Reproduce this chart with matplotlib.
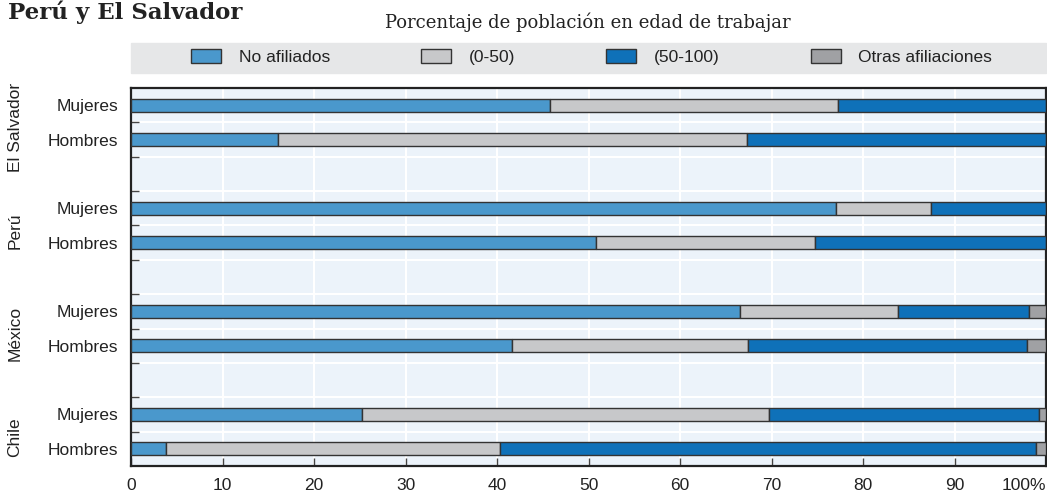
import numpy as np
import matplotlib.pyplot as plt
from matplotlib.patches import Rectangle
from matplotlib.transforms import blended_transform_factory

# rows from bottom to top
paises = ['Chile', 'México', 'Perú', 'El Salvador']
sexos = ['Hombres', 'Mujeres']
series = ['No afiliados', '(0-50)', '(50-100)', 'Otras afiliaciones']
colores = ['#4a98cc', '#c7c8ca', '#0f71b9', '#a0a1a4']

# Chile H, Chile M, México H, México M, Perú H, Perú M, El Salvador H, El Salvador M
no_afiliados = [3.8, 25.2, 41.6, 66.6, 50.8, 77.1, 16.1, 45.8]
de_0_50 = [36.5, 44.5, 25.8, 17.2, 24.0, 10.3, 51.2, 31.5]
de_50_100 = [58.6, 29.5, 30.5, 14.3, 25.2, 12.6, 32.7, 22.7]
otras = [1.1, 0.8, 2.1, 1.9, 0.0, 0.0, 0.0, 0.0]

xticks = [0, 10, 20, 30, 40, 50, 60, 70, 80, 90, 100]
xlabels = ['0', '10', '20', '30', '40', '50', '60', '70', '80', '90', '100%']

plt.rcParams['font.family'] = ['Liberation Sans', 'DejaVu Sans']

ypos = []
ylabels = []
for g in range(len(paises)):
    for s in range(2):
        ypos.append(3 * g + s)
        ylabels.append(sexos[s])
ypos = np.array(ypos)

fig = plt.figure(figsize=(10.47, 4.97), dpi=100)
ax = fig.add_axes([131 / 1047, 31 / 497, 915 / 1047, 378 / 497])
ax.set_facecolor('#ecf3fa')

left = np.zeros(len(ypos))
handles = []
for vals, col, name in zip([no_afiliados, de_0_50, de_50_100, otras], colores, series):
    vals = np.array(vals)
    b = ax.barh(ypos, vals, left=left, height=0.38, color=col,
                edgecolor='#333333', linewidth=1.0, label=name, zorder=3)
    handles.append(b)
    left = left + vals

ax.set_xlim(0, 100)
ax.set_ylim(-0.5, 10.5)
ax.set_xticks(xticks)
ax.set_xticklabels(xlabels)
ax.get_xticklabels()[-1].set_horizontalalignment('right')
ax.set_yticks(ypos)
ax.set_yticklabels(ylabels)
ax.set_yticks(np.arange(0.5, 10, 1), minor=True)

for x in xticks[1:-1]:
    ax.axvline(x, color='white', lw=1.5, zorder=1)
for y in np.arange(0.5, 10, 1):
    ax.axhline(y, color='white', lw=1.5, zorder=1)

ax.tick_params(axis='x', direction='in', length=6, width=1, color='#444444',
               labelsize=12.5, labelcolor='#222222', pad=9, top=False)
ax.tick_params(axis='y', which='major', length=0, labelsize=12.5,
               labelcolor='#222222', pad=9)
ax.tick_params(axis='y', which='minor', direction='in', length=6, width=1,
               color='#444444')
for sp in ax.spines.values():
    sp.set_linewidth(1.6)
    sp.set_color('#222222')

tr = blended_transform_factory(fig.transFigure, ax.transData)
for g, p in enumerate(paises):
    ax.text(15 / 1047, 3 * g + 0.35, p, transform=tr, rotation=90,
            ha='center', va='center', fontsize=12.5, color='#222222')

# legend band
fig.patches.append(Rectangle((131 / 1047, 424 / 497), 915 / 1047, 30 / 497,
                             transform=fig.transFigure, color='#e6e7e8', zorder=0))
fig.legend(handles=handles, loc='lower left', ncol=4, mode='expand',
           bbox_to_anchor=(183 / 1047, 424 / 497, 817 / 1047, 30 / 497),
           frameon=False, fontsize=12.5, handlelength=1.75, handleheight=0.85,
           handletextpad=1.0, borderpad=0.45, borderaxespad=0, labelcolor='#222222')

fig.text(8 / 1047, 1 - 1 / 497, 'Perú y El Salvador', ha='left', va='top',
         fontsize=16.5, fontweight='bold', family='DejaVu Serif', color='#222222')
fig.text(588 / 1047, 1 - 22 / 497, 'Porcentaje de población en edad de trabajar',
         ha='center', va='center', fontsize=13, family='DejaVu Serif', color='#222222')

fig.savefig('out.png', dpi=100)
